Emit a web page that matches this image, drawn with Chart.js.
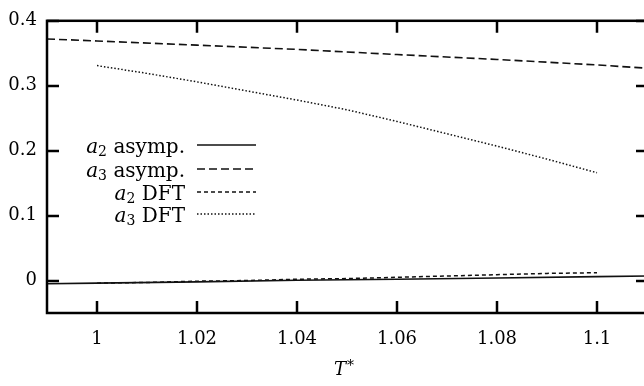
<!DOCTYPE html>
<html>
<head>
<meta charset="utf-8">
<script src="https://cdn.jsdelivr.net/npm/chart.js@4"></script>
<style>
  html, body { margin: 0; padding: 0; background: #fff; overflow: hidden; }
  #wrap { width: 648px; height: 386px; }
</style>
</head>
<body>
<div id="wrap"><canvas id="chart"></canvas></div>
<script>
  // asymptotic curves (cover the full axis range)
  const asympT = [0.99, 1.0, 1.02, 1.04, 1.06, 1.08, 1.1, 1.11];
  const a2Asymp = [-0.005, -0.004, -0.002, 0.0005, 0.002, 0.004, 0.006, 0.007];
  const a3Asymp = [0.372, 0.369, 0.3625, 0.356, 0.348, 0.3405, 0.332, 0.327];

  // DFT results
  const dftT = [1.0, 1.01, 1.02, 1.03, 1.04, 1.05, 1.06, 1.07, 1.08, 1.09, 1.1];
  const a2Dft = [-0.004, -0.003, -0.001, 0.0, 0.002, 0.003, 0.005, 0.007, 0.009, 0.011, 0.012];
  const a3Dft = [0.331, 0.319, 0.306, 0.292, 0.278, 0.263, 0.245, 0.226, 0.207, 0.187, 0.166];

  const xTicks = [1.0, 1.02, 1.04, 1.06, 1.08, 1.1];
  const yTicks = [0, 0.1, 0.2, 0.3, 0.4];

  // legend: [italic symbol, subscript, rest]
  const seriesNames = [
    ["a", "2", " asymp."],
    ["a", "3", " asymp."],
    ["a", "2", " DFT"],
    ["a", "3", " DFT"],
  ];

  const FONT = "'DejaVu Serif', serif";
  const pts = (xs, ys) => xs.map((x, i) => ({ x, y: ys[i] }));

  const frame = {
    id: "frame",
    afterDraw(chart) {
      const { ctx, chartArea: a, scales } = chart;
      ctx.save();
      ctx.strokeStyle = "#000";
      ctx.lineWidth = 2.5;
      ctx.strokeRect(a.left, a.top, a.right - a.left, a.bottom - a.top);
      ctx.beginPath();
      const tl = 12;
      xTicks.forEach((v) => {
        const px = Math.round(scales.x.getPixelForValue(v));
        ctx.moveTo(px, a.bottom); ctx.lineTo(px, a.bottom - tl);
        ctx.moveTo(px, a.top); ctx.lineTo(px, a.top + tl);
      });
      yTicks.forEach((v) => {
        const py = Math.round(scales.y.getPixelForValue(v));
        ctx.moveTo(a.left, py); ctx.lineTo(a.left + tl, py);
        ctx.moveTo(a.right, py); ctx.lineTo(a.right - tl, py);
      });
      ctx.stroke();

      // legend, right-aligned text with line sample after it
      const textRight = 185, lineL = 197, lineR = 256;
      const rowY = [145, 169, 192, 214];
      chart.data.datasets.forEach((ds, i) => {
        const [sym, sub, rest] = seriesNames[i];
        const y = rowY[i];
        ctx.font = "italic 20px " + FONT;
        const wSym = ctx.measureText(sym).width;
        ctx.font = "14px " + FONT;
        const wSub = ctx.measureText(sub).width;
        ctx.font = "20px " + FONT;
        const wRest = ctx.measureText(rest).width;
        let x = textRight - (wSym + wSub + wRest);
        ctx.fillStyle = "#000";
        ctx.textBaseline = "alphabetic";
        ctx.textAlign = "left";
        ctx.font = "italic 20px " + FONT;
        ctx.fillText(sym, x, y + 7.5); x += wSym;
        ctx.font = "14px " + FONT;
        ctx.fillText(sub, x, y + 11); x += wSub;
        ctx.font = "20px " + FONT;
        ctx.fillText(rest, x, y + 7.5);

        ctx.beginPath();
        ctx.strokeStyle = ds.borderColor;
        ctx.lineWidth = ds.borderWidth;
        ctx.setLineDash(ds.borderDash || []);
        ctx.moveTo(lineL, y); ctx.lineTo(lineR, y);
        ctx.stroke();
        ctx.setLineDash([]);
      });

      // x-axis title T*
      ctx.fillStyle = "#000";
      ctx.font = "italic 18px " + FONT;
      ctx.fillText("T", 334, 375);
      const wT = ctx.measureText("T").width;
      ctx.font = "14px " + FONT;
      ctx.fillText("*", 334 + wT + 1, 370);
      ctx.restore();
    },
  };

  const line = (data, dash, width) => ({
    data,
    borderColor: "#111",
    borderWidth: width,
    borderDash: dash,
    pointRadius: 0,
    fill: false,
    tension: 0,
    showLine: true,
  });

  new Chart(document.getElementById("chart"), {
    type: "scatter",
    data: {
      datasets: [
        line(pts(asympT, a2Asymp), [], 1.6),
        line(pts(asympT, a3Asymp), [8, 4], 1.6),
        line(pts(dftT, a2Dft), [4, 3], 1.5),
        line(pts(dftT, a3Dft), [1.5, 2], 1.5),
      ],
    },
    options: {
      responsive: true,
      maintainAspectRatio: false,
      animation: false,
      layout: { padding: { top: 13, right: 0, left: 0, bottom: 0 } },
      plugins: { legend: { display: false }, tooltip: { enabled: false } },
      scales: {
        x: {
          type: "linear",
          min: 0.99,
          max: 1.1102,
          afterBuildTicks: (s) => { s.ticks = xTicks.map((v) => ({ value: v })); },
          afterFit: (s) => { s.height = 73; },
          grid: { display: false, drawTicks: false },
          border: { display: false },
          ticks: {
            padding: 16,
            color: "#000",
            font: { family: FONT, size: 18 },
            callback: (v) => String(+v.toFixed(2)),
          },
        },
        y: {
          min: -0.05,
          max: 0.4,
          afterBuildTicks: (s) => { s.ticks = yTicks.map((v) => ({ value: v })); },
          afterFit: (s) => { s.width = 47; },
          grid: { display: false, drawTicks: false },
          border: { display: false },
          ticks: {
            padding: 10,
            color: "#000",
            font: { family: FONT, size: 18 },
            callback: (v) => String(+v.toFixed(2)),
          },
        },
      },
    },
    plugins: [frame],
  });
</script>
</body>
</html>
